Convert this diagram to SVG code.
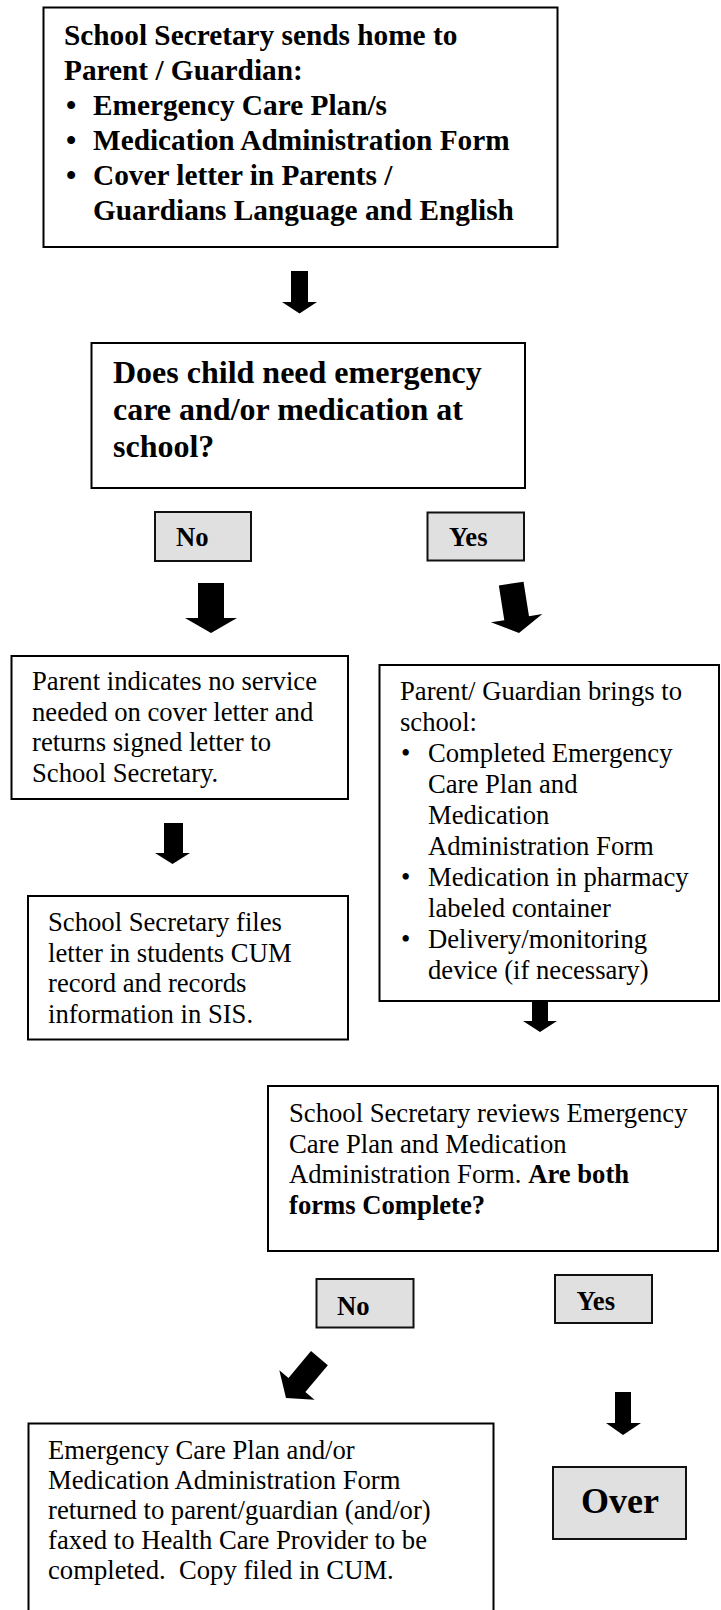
<svg xmlns="http://www.w3.org/2000/svg" width="721" height="1610" viewBox="0 0 721 1610">
<style>
.box{fill:#fff;stroke:#000;stroke-width:2}
.lbl{fill:#e0e0e0;stroke:#111;stroke-width:2}
.arr{fill:#000;stroke:none}
text{font-family:"Liberation Serif","Times New Roman",serif;fill:#000}
.b{font-weight:bold}
.t22{font-size:29.3px;font-weight:bold}
.t24{font-size:32px;font-weight:bold}
.t20{font-size:26.67px}
.over{font-size:36px;font-weight:bold}
</style>
<rect width="721" height="1610" fill="#fff"/>
<g id="connectors">
<polygon class="arr" points="291,271 308,271 308,302 317,302 299.5,313.5 282,302 291,302"/>
<polygon class="arr" points="198,583 224,583 224,618 237,618 211,633 185,618 198,618"/>
<polygon class="arr" transform="translate(519,633) rotate(-9)" points="-12.5,-50 12.5,-50 12.5,-15 26,-15 0,0 -26,-15 -12.5,-15"/>
<polygon class="arr" points="164,823 183,823 183,853 190,853 172.5,864 155,853 164,853"/>
<polygon class="arr" points="532,1002 548,1002 548,1021 557,1021 540,1032 523,1021 532,1021"/>
<polygon class="arr" transform="translate(286,1398) rotate(40)" points="-11,-52 11,-52 11,-17 23,-17 0,0 -23,-17 -11,-17"/>
<polygon class="arr" points="615,1392 631,1392 631,1423 641,1423 623,1435 606,1423 615,1423"/>
</g>
<g id="n_send_home">
<rect class="box" x="43.5" y="7.5" width="514" height="239.5"/>
<text class="t22" x="64" y="45">School Secretary sends home to</text>
<text class="t22" x="64" y="80">Parent / Guardian:</text>
<text class="t22" x="66" y="115">•</text>
<text class="t22" x="93" y="115">Emergency Care Plan/s</text>
<text class="t22" x="66" y="150">•</text>
<text class="t22" x="93" y="150">Medication Administration Form</text>
<text class="t22" x="66" y="185">•</text>
<text class="t22" x="93" y="185">Cover letter in Parents /</text>
<text class="t22" x="93" y="220">Guardians Language and English</text>
</g>
<g id="n_decision">
<rect class="box" x="91.5" y="343" width="433.5" height="145"/>
<text class="t24" x="113" y="383">Does child need emergency</text>
<text class="t24" x="113" y="420">care and/or medication at</text>
<text class="t24" x="113" y="457">school?</text>
</g>
<g id="n_no1">
<rect class="lbl" x="155" y="512" width="96" height="49"/>
<text class="t20 b" x="176" y="546">No</text>
</g>
<g id="n_yes1">
<rect class="lbl" x="427.5" y="512.5" width="96.5" height="48"/>
<text class="t20 b" x="449" y="546">Yes</text>
</g>
<g id="n_no_service">
<rect class="box" x="11.5" y="656" width="336.5" height="143"/>
<text class="t20" x="32" y="690">Parent indicates no service</text>
<text class="t20" x="32" y="720.7">needed on cover letter and</text>
<text class="t20" x="32" y="751.4">returns signed letter to</text>
<text class="t20" x="32" y="782">School Secretary.</text>
</g>
<g id="n_files">
<rect class="box" x="28" y="896" width="320" height="143.5"/>
<text class="t20" x="48" y="931">School Secretary files</text>
<text class="t20" x="48" y="961.5">letter in students CUM</text>
<text class="t20" x="48" y="992">record and records</text>
<text class="t20" x="48" y="1022.5">information in SIS.</text>
</g>
<g id="n_brings">
<rect class="box" x="379.5" y="665" width="339.5" height="336"/>
<text class="t20" x="400" y="700">Parent/ Guardian brings to</text>
<text class="t20" x="400" y="731">school:</text>
<text class="t20" x="401" y="762">•</text>
<text class="t20" x="428" y="762">Completed Emergency</text>
<text class="t20" x="428" y="793">Care Plan and</text>
<text class="t20" x="428" y="824">Medication</text>
<text class="t20" x="428" y="855">Administration Form</text>
<text class="t20" x="401" y="886">•</text>
<text class="t20" x="428" y="886">Medication in pharmacy</text>
<text class="t20" x="428" y="917">labeled container</text>
<text class="t20" x="401" y="948">•</text>
<text class="t20" x="428" y="948">Delivery/monitoring</text>
<text class="t20" x="428" y="979">device (if necessary)</text>
</g>
<g id="n_review">
<rect class="box" x="268" y="1086" width="450" height="165"/>
<text class="t20" x="289" y="1122">School Secretary reviews Emergency</text>
<text class="t20" x="289" y="1152.7">Care Plan and Medication</text>
<text class="t20" x="289" y="1183.4">Administration Form. <tspan class="b">Are both</tspan></text>
<text class="t20 b" x="289" y="1214">forms Complete?</text>
</g>
<g id="n_no2">
<rect class="lbl" x="316.5" y="1279" width="97" height="48.5"/>
<text class="t20 b" x="337" y="1315">No</text>
</g>
<g id="n_yes2">
<rect class="lbl" x="555" y="1275" width="97" height="48"/>
<text class="t20 b" x="576.5" y="1310">Yes</text>
</g>
<g id="n_returned">
<rect class="box" x="28.5" y="1423.5" width="465" height="200"/>
<text class="t20" x="48" y="1459">Emergency Care Plan and/or</text>
<text class="t20" x="48" y="1489">Medication Administration Form</text>
<text class="t20" x="48" y="1519">returned to parent/guardian (and/or)</text>
<text class="t20" x="48" y="1549">faxed to Health Care Provider to be</text>
<text class="t20" x="48" y="1579" xml:space="preserve">completed.  Copy filed in CUM.</text>
</g>
<g id="n_over">
<rect class="lbl" x="553" y="1467" width="133" height="72"/>
<text class="over" x="581" y="1513">Over</text>
</g>
</svg>
